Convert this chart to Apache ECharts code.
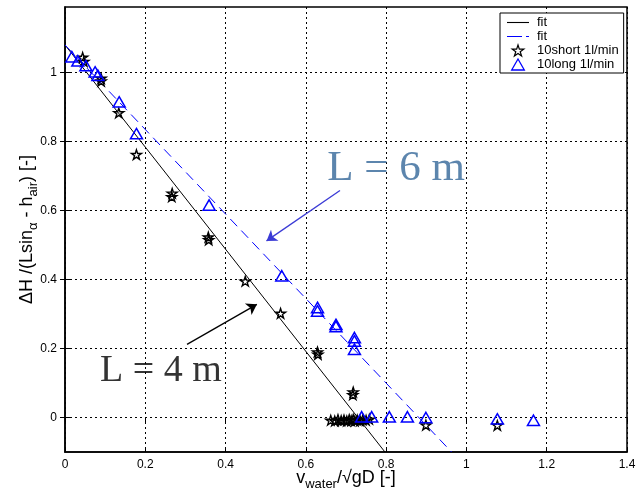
<!DOCTYPE html>
<html>
<head>
<meta charset="utf-8">
<script src="https://cdn.jsdelivr.net/npm/echarts@6/dist/echarts.min.js"></script>
<style>html,body{margin:0;padding:0;background:#fff;}#c{width:639px;height:500px;}</style>
</head>
<body>
<div id="c"></div>
<script>
// ---- data ----
const xTicks = [0, 0.2, 0.4, 0.6, 0.8, 1, 1.2, 1.4];
const yTicks = [0, 0.2, 0.4, 0.6, 0.8, 1];

const shortX = [0.044,0.047,0.090,0.090,0.134,0.178,0.267,0.266,0.357,0.358,0.449,0.537,0.629,0.630,0.718,0.717,
  0.662,0.672,0.680,0.688,0.695,0.702,0.708,0.713,0.718,0.722,0.728,0.735,0.742,0.750,0.758,0.899,1.077];
const shortY = [1.044,1.032,0.983,0.975,0.883,0.762,0.650,0.640,0.523,0.515,0.395,0.302,0.190,0.183,0.074,0.066,
  -0.008,-0.010,-0.006,-0.009,-0.007,-0.010,-0.006,-0.009,-0.005,-0.010,-0.007,-0.009,-0.006,-0.008,-0.005,-0.022,-0.023];

const longX = [0.017,0.032,0.052,0.075,0.082,0.135,0.178,0.359,0.540,0.629,0.629,0.675,0.675,0.721,0.721,0.721,
  0.739,0.764,0.808,0.853,0.899,1.077,1.167];
const longY = [1.046,1.034,1.020,1.002,0.992,0.915,0.823,0.616,0.411,0.319,0.309,0.270,0.264,0.232,0.222,0.198,
  0.002,0.002,0.002,0.002,0.000,-0.004,-0.008];

const fitShortX = [0, 0.797];
const fitShortY = [1.08, -0.10];
const fitLongX = [0, 0.963];
const fitLongY = [1.08, -0.10];

const noteText = ['L = 6 m', 'L = 4 m'];
const noteX = [0.825, 0.239];
const noteY = [0.721, 0.134];
const arrowFromX = [0.685, 0.304];
const arrowFromY = [0.658, 0.212];
const arrowToX = [0.502, 0.478];
const arrowToY = [0.512, 0.328];

// ---- chart ----
const zip = (a, b) => a.map((v, i) => [v, b[i]]);
const STAR = 'path://M50 0L61.2 34.5L97.6 34.5L68.2 55.9L79.4 90.5L50 69.1L20.6 90.5L31.8 55.9L2.4 34.5L38.8 34.5Z';
const TRI = 'path://M50 0L100 87L0 87Z';
const LINE_ICON = 'path://M0 0H22V1.1H0Z';
const DASH_ICON = 'path://M0 0H15V1.1H0Z M19 0H22V1.1H19Z';
const noteColors = ['#336699', '#000000'];
const arrowColors = ['#3b3bd6', '#000000'];
const FONT = 'Liberation Sans, Arial, sans-serif';
const CLEAR = 'rgba(255,255,255,0)';

const nameRich = {
  n: {fontFamily: FONT, fontSize: 18, color: '#000', lineHeight: 21},
  sub: {fontFamily: FONT, fontSize: 13, color: '#000', lineHeight: 21, padding: [12, 0, 0, 0]}
};

const chart = echarts.init(document.getElementById('c'), null, {renderer: 'canvas'});
chart.setOption({
  animation: false,
  backgroundColor: '#fff',
  grid: {left: 65, right: 12, top: 7, bottom: 48, show: true, borderColor: '#000', borderWidth: 1.5,
    containLabel: false, outerBoundsMode: 'none'},
  legend: {
    orient: 'vertical', left: 500, top: 13,
    backgroundColor: '#fff', borderColor: '#000', borderWidth: 1,
    padding: [3, 5, 2, 7], itemGap: 1, itemWidth: 22, itemHeight: 11, symbolKeepAspect: true,
    textStyle: {fontFamily: FONT, fontSize: 13, color: '#000', padding: [0, 0, 0, 3]},
    data: [
      {name: 'fit', icon: LINE_ICON, itemStyle: {color: '#000', borderWidth: 0}},
      {name: 'fit ', icon: DASH_ICON, itemStyle: {color: '#0000ff', borderWidth: 0}},
      {name: '10short 1l/min', icon: STAR, itemStyle: {color: CLEAR, borderColor: '#000', borderWidth: 1.2}},
      {name: '10long 1l/min', icon: TRI, itemStyle: {color: CLEAR, borderColor: '#0000ff', borderWidth: 1.3}}
    ]
  },
  xAxis: [{
    type: 'value', min: xTicks[0], max: xTicks[xTicks.length - 1], interval: 0.2,
    name: '{n|v}{sub|water}{n|/√gD [-]}', nameLocation: 'middle', nameGap: 16, nameMoveOverlap: false,
    nameTextStyle: {rich: nameRich},
    axisLine: {show: true, onZero: false, lineStyle: {color: '#000', width: 1.5}},
    axisTick: {show: true, inside: true, length: 5, lineStyle: {color: '#000'}},
    axisLabel: {fontFamily: FONT, fontSize: 12, color: '#000', margin: 7},
    splitLine: {show: true, lineStyle: {color: '#000', type: [2, 3], width: 1}}
  }, {
    type: 'value', position: 'top', min: xTicks[0], max: xTicks[xTicks.length - 1], interval: 0.2,
    axisLine: {show: false}, axisTick: {show: true, inside: true, length: 5, lineStyle: {color: '#000'}},
    axisLabel: {show: false}, splitLine: {show: false}
  }],
  yAxis: [{
    type: 'value', min: -0.1, max: 1.19,
    name: '{n|ΔH /(Lsin}{sub|α}{n| - h}{sub|air}{n|) [-]}', nameLocation: 'middle', nameGap: 27, nameRotate: 90,
    nameMoveOverlap: false,
    nameTextStyle: {rich: nameRich},
    axisLine: {show: true, onZero: false, lineStyle: {color: '#000', width: 1.5}},
    axisTick: {show: true, inside: true, length: 5, customValues: yTicks, lineStyle: {color: '#000'}},
    axisLabel: {fontFamily: FONT, fontSize: 12, color: '#000', margin: 8, customValues: yTicks},
    splitLine: {show: true, lineStyle: {color: '#000', type: [2, 3], width: 1}}
  }, {
    type: 'value', position: 'right', min: -0.1, max: 1.19,
    axisLine: {show: false},
    axisTick: {show: true, inside: true, length: 5, customValues: yTicks, lineStyle: {color: '#000'}},
    axisLabel: {show: false, customValues: yTicks}, splitLine: {show: false}
  }],
  series: [
    {name: 'fit', type: 'line', data: zip(fitShortX, fitShortY), symbol: 'none', showSymbol: false,
      lineStyle: {color: '#000', width: 1}, itemStyle: {color: '#000'}, z: 3},
    {name: 'fit ', type: 'line', data: zip(fitLongX, fitLongY), symbol: 'none', showSymbol: false,
      lineStyle: {color: '#0000ff', width: 1, type: [10, 6]}, itemStyle: {color: '#0000ff'}, z: 3},
    {name: '10short 1l/min', type: 'scatter', data: zip(shortX, shortY), symbol: STAR, symbolKeepAspect: true, symbolSize: 10,
      itemStyle: {color: CLEAR, borderColor: '#000', borderWidth: 1.4, opacity: 1}, z: 4},
    {name: '10long 1l/min', type: 'scatter', data: zip(longX, longY), symbol: TRI, symbolKeepAspect: true, symbolSize: 12,
      itemStyle: {color: CLEAR, borderColor: '#0000ff', borderWidth: 1.5, opacity: 1}, z: 4},
    {name: 'notes', type: 'scatter', silent: true, symbolSize: 0, z: 5,
      data: noteText.map((t, i) => ({value: [noteX[i], noteY[i]], label: {show: true, position: 'inside', formatter: t,
        fontFamily: 'Liberation Serif, Times New Roman, serif', fontSize: i === 0 ? 43 : 38, color: noteColors[i]}})),
      markLine: {silent: true, symbol: ['none', 'arrow'], symbolSize: 10, label: {show: false},
        data: arrowFromX.map((v, i) => [
          {coord: [v, arrowFromY[i]], lineStyle: {color: arrowColors[i], width: 1.3, type: 'solid'}, itemStyle: {color: arrowColors[i]}},
          {coord: [arrowToX[i], arrowToY[i]]}
        ])}
    }
  ]
});
</script>
</body>
</html>
